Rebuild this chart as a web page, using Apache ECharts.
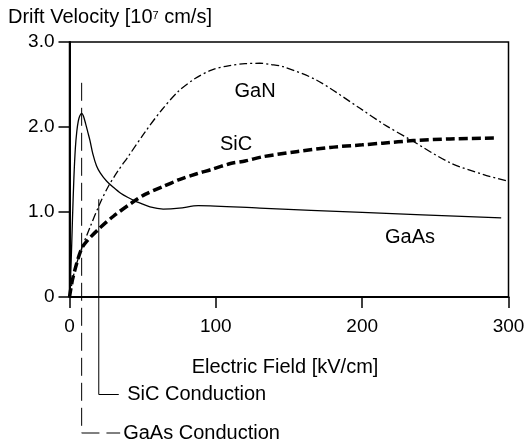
<!DOCTYPE html>
<html>
<head>
<meta charset="utf-8">
<script src="https://cdn.jsdelivr.net/npm/echarts@6/dist/echarts.min.js"></script>
<style>
  html, body { margin: 0; padding: 0; background: #fff; }
  #chart { width: 525px; height: 440px; }
</style>
</head>
<body>
<div id="chart"></div>
<script>
const xTicks = [0, 100, 200, 300];
const yTicks = [0, 1, 2, 3];

const gaasField = [0, 1, 2, 3, 4, 5, 6, 7, 8.3, 9.5, 11, 12.5, 14, 16, 18.5, 21, 25, 30, 35, 40, 46, 55, 64, 75, 88, 130, 200, 295];
const gaasVelocity = [0, 0.35, 0.9, 1.4, 1.75, 1.95, 2.07, 2.13, 2.16, 2.13, 2.04, 1.94, 1.84, 1.68, 1.54, 1.46, 1.37, 1.29, 1.22, 1.17, 1.12, 1.06, 1.035, 1.045, 1.075, 1.045, 0.995, 0.93];

const ganField = [0, 2.6, 5, 8.3, 14, 20.8, 26.5, 33, 40, 51.6, 63, 74.4, 85.8, 97, 108.5, 120, 130, 138, 146, 169, 198.5, 215, 233, 260, 283, 300];
const ganVelocity = [0, 0.24, 0.4, 0.57, 0.82, 1.1, 1.3, 1.48, 1.65, 1.94, 2.2, 2.42, 2.57, 2.67, 2.72, 2.745, 2.75, 2.735, 2.71, 2.55, 2.22, 2.03, 1.85, 1.58, 1.44, 1.36];

const sicField = [0, 2, 5, 8.3, 12, 20, 30, 43.6, 52, 64, 75, 87, 97, 110, 120, 132, 155, 178, 200, 214, 235, 260, 290];
const sicVelocity = [0, 0.2, 0.4, 0.57, 0.66, 0.8, 0.95, 1.12, 1.21, 1.3, 1.38, 1.45, 1.5, 1.57, 1.6, 1.65, 1.71, 1.76, 1.79, 1.81, 1.84, 1.86, 1.87];

// conduction markers: field value and where the marker line starts
const conductionNames = ['GaAs Conduction', 'SiC Conduction'];
const conductionField = [8.3, 20];
const conductionTop = [2.52, 1.15];

const FONT = 'Liberation Sans, Arial, sans-serif';

function pairs(xs, ys) {
  return xs.map((x, i) => [x, ys[i]]);
}

function curveLabel(name, coord) {
  return {
    symbol: 'circle',
    symbolSize: 0,
    silent: true,
    label: { show: true, position: 'inside', formatter: '{b}', color: '#000', fontSize: 20, fontFamily: FONT },
    data: [{ name: name, coord: coord }]
  };
}

const myChart = echarts.init(document.getElementById('chart'));

myChart.setOption({
  animation: false,
  backgroundColor: '#fff',
  title: {
    left: 8,
    top: 5,
    padding: 0,
    text: '{a|Drift Velocity [10}{s|7}{a| cm/s]}',
    textStyle: {
      fontWeight: 'normal',
      rich: {
        a: { fontSize: 20, fontFamily: FONT, fontWeight: 'normal', color: '#000', lineHeight: 24 },
        s: { fontSize: 11, fontFamily: FONT, fontWeight: 'normal', color: '#000', lineHeight: 24, verticalAlign: 'top', padding: [5, 0, 0, 0] }
      }
    }
  },
  grid: {
    left: 69.5,
    right: 16.5,
    top: 42,
    bottom: 143,
    show: true,
    borderColor: '#000',
    borderWidth: 1.5,
    outerBoundsMode: 'none'
  },
  xAxis: {
    type: 'value',
    min: xTicks[0],
    max: xTicks[xTicks.length - 1],
    interval: 100,
    name: 'Electric Field [kV/cm]',
    nameLocation: 'middle',
    nameGap: 60,
    nameTextStyle: { fontSize: 20, fontFamily: FONT, color: '#000', padding: [0, 8, 0, 0] },
    axisLine: { show: true, lineStyle: { color: '#000', width: 2 } },
    axisTick: { show: true, inside: false, length: 11, lineStyle: { color: '#000', width: 1.5 } },
    axisLabel: { color: '#000', fontSize: 19, fontFamily: FONT, margin: 20 },
    splitLine: { show: false }
  },
  yAxis: {
    type: 'value',
    min: yTicks[0],
    max: yTicks[yTicks.length - 1],
    interval: 1,
    axisLine: { show: true, lineStyle: { color: '#000', width: 2 } },
    axisTick: { show: true, inside: false, length: 11, lineStyle: { color: '#000', width: 1.5 } },
    axisLabel: {
      color: '#000', fontSize: 19, fontFamily: FONT, margin: 15,
      formatter: v => v === 0 ? '0' : v.toFixed(1)
    },
    splitLine: { show: false }
  },
  series: [
    {
      name: 'GaAs',
      type: 'line',
      data: pairs(gaasField, gaasVelocity),
      smooth: 0.3,
      showSymbol: false,
      lineStyle: { color: '#000', width: 1.3 },
      markPoint: curveLabel('GaAs', [232.7, 0.706])
    },
    {
      name: 'GaN',
      type: 'line',
      data: pairs(ganField, ganVelocity),
      smooth: 0.3,
      showSymbol: false,
      lineStyle: { color: '#000', width: 1.3, type: [8, 3, 2, 3] },
      markPoint: curveLabel('GaN', [126.8, 2.42])
    },
    {
      name: 'SiC',
      type: 'line',
      data: pairs(sicField, sicVelocity),
      smooth: 0.3,
      showSymbol: false,
      lineStyle: { color: '#000', width: 3.5, type: [9, 4] },
      markPoint: curveLabel('SiC', [113.8, 1.79])
    },
    {
      name: 'conduction',
      type: 'custom',
      silent: true,
      data: conductionField.map((x, i) => [x, conductionTop[i], conductionNames[i]]),
      renderItem: function (params, api) {
        const top = api.coord([api.value(0), api.value(1)]);
        const base = api.coord([api.value(0), 0]);
        const gaas = params.dataIndex === 0;
        const yb = base[1] + (gaas ? 136 : 97.5);
        const lead = gaas ? 38.5 : 20;
        return {
          type: 'group',
          children: [
            {
              type: 'polyline',
              shape: { points: [[top[0], top[1]], [top[0], yb], [top[0] + lead, yb]] },
              style: { stroke: '#000', lineWidth: 1, fill: null, lineDash: gaas ? [18, 7] : null }
            },
            {
              type: 'text',
              style: {
                text: api.value(2),
                x: top[0] + lead + (gaas ? 3 : 8.5),
                y: yb,
                verticalAlign: 'middle',
                fontSize: 20,
                fontFamily: FONT,
                fill: '#000'
              }
            }
          ]
        };
      }
    }
  ]
});
</script>
</body>
</html>
